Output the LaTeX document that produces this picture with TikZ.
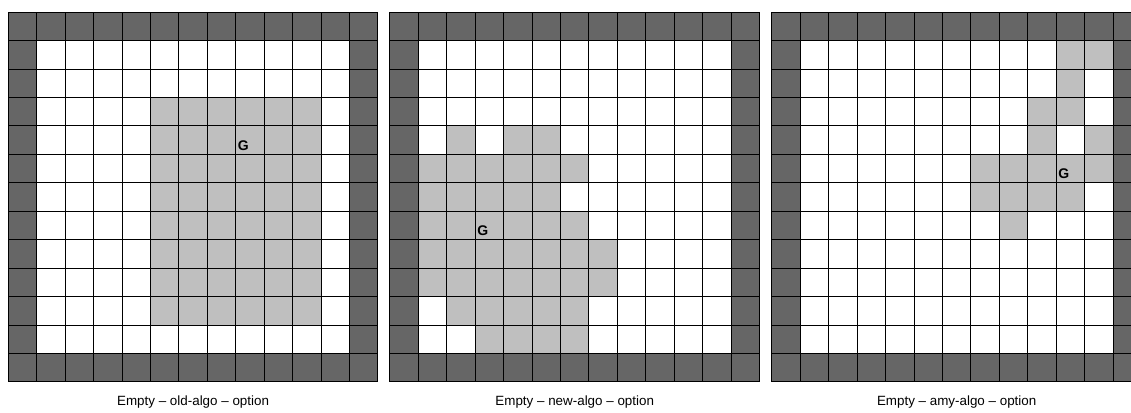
\documentclass[tikz,border=0pt]{standalone}
\usepackage{fontspec}
\setmainfont{Liberation Sans}
\usepackage{tikz}

\begin{document}
\begin{tikzpicture}[
    x=0.5cm, y=-0.5cm,
    wall/.style={fill=black!60},
    free/.style={fill=white},
    seen/.style={fill=black!25},
    gridline/.style={black, line width=0.5pt},
    goal/.style={anchor=base west, inner sep=0pt, font=\fontsize{7}{8}\selectfont\bfseries},
    caption/.style={anchor=base, inner sep=0pt, font=\fontsize{6.7}{8}\selectfont}
]
\clip (-0.29,-0.43) rectangle (39.48,14.09);

% old-algo
\begin{scope}[shift={(0,0)}]
\fill[wall] (0,0) rectangle (13,13);
\fill[free] (1,1) rectangle (12,12);
\fill[seen] (5,3) rectangle (11,11);
\foreach \i in {0,...,13} {
    \draw[gridline] (\i,0) -- (\i,13);
    \draw[gridline] (0,\i) -- (13,\i);
}
\node[goal] (goalA) at (8.06,4.86) {G};
\node[caption] (capA) at (6.5,13.83) {Empty -- old-algo -- option};
\end{scope}

% new-algo
\begin{scope}[shift={(13.42,0)}]
\fill[wall] (0,0) rectangle (13,13);
\fill[free] (1,1) rectangle (12,12);
\foreach \c/\r in {2/4,4/4,5/4,
    1/5,2/5,3/5,4/5,5/5,6/5,
    1/6,2/6,3/6,4/6,5/6,
    1/7,2/7,3/7,4/7,5/7,6/7,
    1/8,2/8,3/8,4/8,5/8,6/8,7/8,
    1/9,2/9,3/9,4/9,5/9,6/9,7/9,
    2/10,3/10,4/10,5/10,6/10,
    3/11,4/11,5/11,6/11}
    \fill[seen] (\c,\r) rectangle ++(1,1);
\foreach \i in {0,...,13} {
    \draw[gridline] (\i,0) -- (\i,13);
    \draw[gridline] (0,\i) -- (13,\i);
}
\node[goal] (goalB) at (3.06,7.86) {G};
\node[caption] (capB) at (6.5,13.83) {Empty -- new-algo -- option};
\end{scope}

% amy-algo
\begin{scope}[shift={(26.85,0)}]
\fill[wall] (0,0) rectangle (13,13);
\fill[free] (1,1) rectangle (12,12);
\foreach \c/\r in {10/1,11/1,10/2,9/3,10/3,9/4,11/4,
    7/5,8/5,9/5,10/5,11/5,7/6,8/6,9/6,10/6,8/7}
    \fill[seen] (\c,\r) rectangle ++(1,1);
\foreach \i in {0,...,13} {
    \draw[gridline] (\i,0) -- (\i,13);
    \draw[gridline] (0,\i) -- (13,\i);
}
\node[goal] (goalC) at (10.06,5.86) {G};
\node[caption] (capC) at (6.5,13.83) {Empty -- amy-algo -- option};
\end{scope}
\end{tikzpicture}
\end{document}
